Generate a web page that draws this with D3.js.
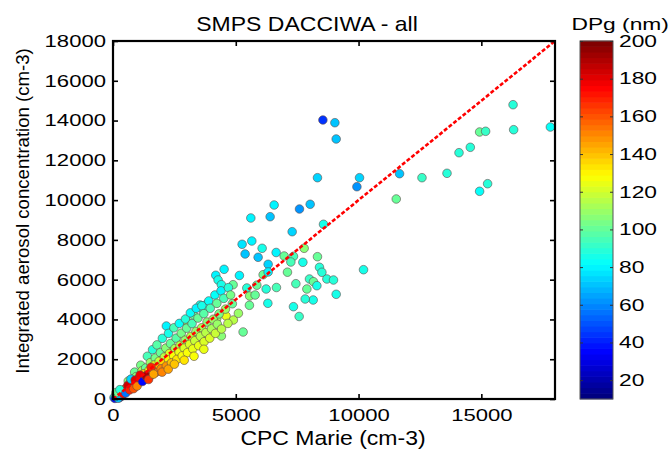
<!DOCTYPE html>
<html>
<head>
<meta charset="utf-8">
<script src="https://cdn.jsdelivr.net/npm/d3@7/dist/d3.min.js"></script>
<style>
  body { margin: 0; background: #fff; }
  text { font-family: "Liberation Sans", Arial, sans-serif; fill: #000; }
</style>
</head>
<body>
<svg id="chart" width="669" height="449"></svg>
<script>
// Rows are [CPC Marie, SMPS integrated, DPg]

// scattered points away from the main band
const sparsePoints = [
  [8548,14028,45],[9036,13892,70],[9089,13073,72],[8327,11127,75],[10039,11127,75],
  [9933,10674,62],[11670,11328,72],[12583,11127,92],[11535,10056,100],[16292,14797,88],
  [14930,13425,100],[15175,13460,92],[16316,13540,88],[17812,13676,82],[14551,12655,88],
  [14091,12384,88],[13602,11348,88],[15256,10825,90],[14930,10443,82],[10202,6501,85],
  [6562,9754,80],[7594,9553,62],[8030,9790,70],[6399,9166,72],[7296,8412,75],
  [8572,8784,85],[5613,9101,80],[7785,7577,105],[7732,6873,85],[8327,7155,100],
  [8409,6622,88],[8507,6370,88],[8001,6034,92],[8164,5898,100],[8303,5697,85],
  [8710,6034,88],[8979,5983,88],[7895,5531,100],[9089,5264,85],[8152,4978,85],
  [5258,7778,78],[5653,7944,80],[6073,7577,85],[5380,7291,72],[5910,7125,70],
  [6644,7366,80],[6318,6773,75],[6970,7190,100],[7349,7175,95],[7243,6888,95],
  [4524,6521,80],[4186,6220,80],[4280,5983,85],[4414,5747,85],[5148,6210,80],
  [4891,5747,100],[5450,5581,90],[5857,5722,100],[6236,5531,90],[6656,5606,95],
  [7105,6376,100],[7447,5797,95],[6114,6250,100],[6318,6386,80],[5564,5179,105],
  [5788,5229,100],[6306,4812,85],[5556,4711,100],[7349,4641,85],[7826,5028,90],
  [7581,4148,92],[5299,3369,100],[4414,3168,105],[4606,4173,125],[4227,4058,108],
  [4903,3972,115],[5107,4309,110],[3546,4726,85],[3819,4777,80],[3681,4475,90],
  [3273,4224,100],[3004,3887,110],[2173,3670,80]
];

// dense band, upper edge (above the 1:1 line)
const upperBand = [
  [620,900,105],[880,1350,100],[1130,1700,104],[1400,2150,96],[1610,2480,88],[1790,2720,98],
  [2010,3050,90],[2260,3300,86],[2480,3580,94],[2700,3800,82],[2950,4020,88],[3150,4330,84],
  [3390,4560,80],[3620,4690,86],[3900,4930,82],[4150,5230,84],[4400,5440,80],[4700,5600,88]
];

const midBand = [
  [700,820,110],[950,1130,105],[1180,1420,112],[1330,1560,100],[1520,1830,108],[1720,2060,104],
  [1930,2330,100],[2150,2560,106],[2340,2790,102],[2570,3060,98],[2780,3310,104],[3000,3560,100],
  [3220,3790,96],[3460,4070,102],[3700,4290,98],[3960,4560,94],[4230,4810,100],[4510,5060,96],
  [4790,5230,104]
];

const onLine = [
  [480,500,150],[760,760,165],[1020,1000,160],[1250,1270,140],[1470,1450,130],[1680,1710,120],
  [1880,1900,118],[2090,2110,115],[2300,2290,120],[2520,2540,112],[2730,2700,116],[2940,2960,110],
  [3170,3150,114],[3380,3400,108],[3610,3580,112],[3830,3870,106],[4080,4010,110],[4320,4280,104],
  [4580,4520,108],[4860,4790,102]
];

const belowMid = [
  [400,360,185],[650,580,178],[900,780,170],[1150,1010,165],[1380,1210,156],[1600,1390,150],
  [1820,1590,142],[2040,1790,135],[2260,1980,130],[2470,2170,126],[2690,2360,124],[2900,2560,122],
  [3120,2750,120],[3330,2930,118],[3560,3150,116],[3780,3340,114],[4010,3530,112],[4250,3760,110]
];

const belowBand = [
  [560,420,180],[820,640,176],[1060,830,172],[1290,1000,168],[1510,1160,160],[1740,1340,155],
  [1960,1520,150],[2170,1660,148],[2380,1820,140],[2600,1990,132],[2820,2170,128],[3030,2330,126],
  [3250,2520,124],[3490,2680,125],[3710,2880,122],[3940,3060,120],[4170,3300,118],[4420,3520,116],
  [4680,3800,114],[2900,1950,132],[3300,2150,128],[3700,2500,124]
];

const nearOrigin = [
  [40,70,80],[80,30,38],[110,180,95],[150,110,22],[190,280,172],[230,160,60],[260,60,45],
  [300,380,120],[330,250,180],[360,150,30],[210,40,70],[120,320,100],[420,260,175],[280,470,88],
  [520,300,55],[600,680,185],[680,460,170],[730,1000,75],[840,520,160],[900,950,182],[980,650,150],
  [1100,1200,178],[1200,880,35],[1350,1150,190],[1450,980,165],[1550,1600,170],[1650,1250,145],
  [2000,1350,152],[2250,1500,145],[2500,1750,138]
];

const xTicks = [0, 5000, 10000, 15000];
const yTicks = [0, 2000, 4000, 6000, 8000, 10000, 12000, 14000, 16000, 18000];
const cTicks = [20, 40, 60, 80, 100, 120, 140, 160, 180, 200];
const axisRange = [0, 18000];
const dpgRange = [10, 200];
const oneToOne = [0, 18000];

const plot = { left: 113, right: 555, top: 41, bottom: 399 };
const bar = { left: 580, right: 613 };

const svg = d3.select('#chart');

const x = d3.scaleLinear().domain(axisRange).range([plot.left, plot.right]);
const y = d3.scaleLinear().domain(axisRange).range([plot.bottom, plot.top]);
const cy = d3.scaleLinear().domain(dpgRange).range([plot.bottom, plot.top]);

// matlab jet, 64 levels
const nLevels = 64;
function jet(t) {
  const f = v => Math.max(0, Math.min(1, v));
  const r = f(Math.min(4 * t - 1.5, -4 * t + 4.5));
  const g = f(Math.min(4 * t - 0.5, -4 * t + 3.5));
  const b = f(Math.min(4 * t + 0.5, -4 * t + 2.5));
  return d3.rgb(r * 255, g * 255, b * 255).formatHex();
}
function levelOf(v) {
  const t = (v - dpgRange[0]) / (dpgRange[1] - dpgRange[0]);
  return Math.max(0, Math.min(nLevels - 1, Math.floor(t * nLevels)));
}
function colorOf(v) {
  return jet(levelOf(v) / (nLevels - 1));
}

// points
const allPoints = [].concat(sparsePoints, upperBand, midBand, onLine, belowMid, belowBand, nearOrigin);

svg.append('g')
  .selectAll('circle')
  .data(allPoints)
  .enter().append('circle')
  .attr('cx', d => x(d[0]))
  .attr('cy', d => y(d[1]))
  .attr('r', 4.3)
  .attr('fill', d => colorOf(d[2]))
  .attr('stroke', '#5e4c4c')
  .attr('stroke-opacity', 0.75)
  .attr('stroke-width', 0.8);

// 1:1 line
svg.append('line')
  .attr('x1', x(oneToOne[0])).attr('y1', y(oneToOne[0]))
  .attr('x2', x(oneToOne[1])).attr('y2', y(oneToOne[1]))
  .attr('stroke', '#ff0000')
  .attr('stroke-width', 2.6)
  .attr('stroke-dasharray', '4,2');

// axes, ticks pointing inward on all four sides
function styleAxis(g) {
  g.select('.domain').remove();
  g.selectAll('.tick line').attr('stroke', '#000').attr('stroke-width', 1.6);
  g.attr('font-family', null).attr('font-size', null);
}

const xs = 1.3; // horizontal stretch of the reference's labels

svg.append('g')
  .attr('transform', 'translate(0,' + plot.bottom + ')')
  .call(d3.axisBottom(x).tickValues(xTicks).tickSize(-5).tickPadding(10).tickFormat(d3.format('d')))
  .call(styleAxis)
  .selectAll('text')
  .attr('font-size', 17)
  .attr('transform', 'scale(' + xs + ',1)');

svg.append('g')
  .attr('transform', 'translate(0,' + plot.top + ')')
  .call(d3.axisTop(x).tickValues(xTicks).tickSize(-5).tickFormat(''))
  .call(styleAxis);

svg.append('g')
  .attr('transform', 'translate(' + plot.left + ',0)')
  .call(d3.axisLeft(y).tickValues(yTicks).tickSize(-5).tickPadding(7).tickFormat(d3.format('d')))
  .call(styleAxis)
  .selectAll('text')
  .attr('font-size', 17)
  .attr('x', -7 / xs)
  .attr('transform', 'scale(' + xs + ',1)');

svg.append('g')
  .attr('transform', 'translate(' + plot.right + ',0)')
  .call(d3.axisRight(y).tickValues(yTicks).tickSize(-5).tickFormat(''))
  .call(styleAxis);

// frame
svg.append('rect')
  .attr('x', plot.left).attr('y', plot.top)
  .attr('width', plot.right - plot.left)
  .attr('height', plot.bottom - plot.top)
  .attr('fill', 'none')
  .attr('stroke', '#000')
  .attr('stroke-width', 2.2);

// labels
svg.append('text')
  .attr('transform', 'translate(307,30.5) scale(1.15,1)')
  .attr('text-anchor', 'middle')
  .attr('font-size', 20)
  .text('SMPS DACCIWA - all');

svg.append('text')
  .attr('transform', 'translate(333,445) scale(1.15,1)')
  .attr('text-anchor', 'middle')
  .attr('font-size', 20)
  .text('CPC Marie (cm-3)');

svg.append('text')
  .attr('transform', 'translate(28.5,211) rotate(-90)')
  .attr('text-anchor', 'middle')
  .attr('font-size', 18.6)
  .text('Integrated aerosol concentration (cm-3)');

// colorbar
const step = (dpgRange[1] - dpgRange[0]) / nLevels;
const levels = d3.range(nLevels);

svg.append('g')
  .selectAll('rect')
  .data(levels)
  .enter().append('rect')
  .attr('x', bar.left)
  .attr('width', bar.right - bar.left)
  .attr('y', i => cy(dpgRange[0] + (i + 1) * step) - 0.3)
  .attr('height', i => cy(dpgRange[0] + i * step) - cy(dpgRange[0] + (i + 1) * step) + 0.6)
  .attr('fill', i => jet(i / (nLevels - 1)));

svg.append('rect')
  .attr('x', bar.left).attr('y', cy(dpgRange[1]))
  .attr('width', bar.right - bar.left)
  .attr('height', cy(dpgRange[0]) - cy(dpgRange[1]))
  .attr('fill', 'none')
  .attr('stroke', '#555')
  .attr('stroke-width', 1);

const cs = 1.38;
svg.append('g')
  .attr('transform', 'translate(' + bar.right + ',0)')
  .call(d3.axisRight(cy).tickValues(cTicks).tickSize(-3).tickPadding(6))
  .call(styleAxis)
  .call(g => g.selectAll('.tick line').attr('stroke', '#333').attr('stroke-width', 1))
  .selectAll('text')
  .attr('font-size', 16.5)
  .attr('x', 6 / cs)
  .attr('transform', 'scale(' + cs + ',1)');

svg.append('g')
  .attr('transform', 'translate(' + bar.left + ',0)')
  .call(d3.axisLeft(cy).tickValues(cTicks).tickSize(-3).tickFormat(''))
  .call(styleAxis)
  .call(g => g.selectAll('.tick line').attr('stroke', '#333').attr('stroke-width', 1));

svg.append('text')
  .attr('transform', 'translate(571.5,30) scale(' + cs + ',1)')
  .attr('font-size', 16.5)
  .text('DPg (nm)');
</script>
</body>
</html>
